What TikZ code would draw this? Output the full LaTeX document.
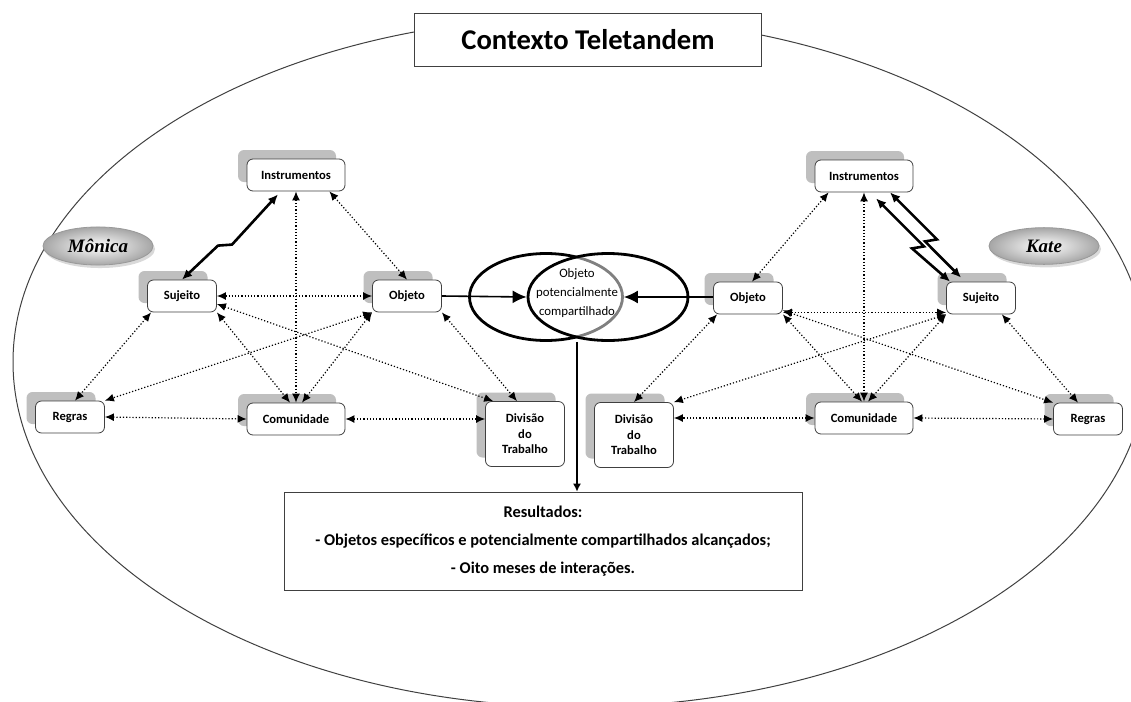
\documentclass[tikz,border=0pt]{standalone}
\usepackage{fontspec}
\setmainfont{Carlito}
\newfontfamily\namefont{Liberation Serif}
\usetikzlibrary{arrows.meta, shapes.geometric, shadows}

\begin{document}
\begin{tikzpicture}[x=0.5pt, y=-0.5pt,
	actbox/.style={draw=black!75, fill=white, rounded corners=3pt, minimum width=34.5pt, minimum height=16pt, inner sep=1pt, font=\bfseries\fontsize{6.3}{7.8}\selectfont, drop shadow={shadow xshift=-4.5pt, shadow yshift=4.5pt, fill=black!25, opacity=1}},
	widebox/.style={actbox, minimum width=49pt},
	divbox/.style={actbox, minimum width=39.5pt, minimum height=32.5pt, align=center},
	dotlink/.style={densely dotted, line width=0.6pt, {Latex[length=4.5pt,width=4pt]}-{Latex[length=4.5pt,width=4pt]}},
	boltlink/.style={line width=1.3pt, {Latex[length=5pt,width=4.5pt]}-{Latex[length=5pt,width=4.5pt]}},
	person/.style={ellipse, draw=black!40, inner color=white, outer color=black!35, minimum width=55pt, minimum height=18pt, font=\namefont\bfseries\itshape\fontsize{9.5}{10}\selectfont, drop shadow={shadow xshift=1pt, shadow yshift=-1.5pt, opacity=0.3}},
	lens/.style={ellipse, draw, line width=1.4pt, minimum height=43.5pt}]

	\useasboundingbox (0,0) rectangle (1131,702);
	\clip (0,0) rectangle (1131,702);

	\draw [black!75, line width=0.5pt] (580,362) ellipse [x radius=283.5pt, y radius=172.5pt];
	\node [draw=black!75, fill=white, minimum width=173.5pt, minimum height=26.5pt, font=\bfseries\fontsize{14.3}{16}\selectfont] (title) at (588,40) {Contexto Teletandem};

	\node [person] (monica) at (98,246) {Mônica};
	\node [person] (kate) at (1044,246) {Kate};

	\node [widebox] (instr1) at (296,175) {Instrumentos};
	\node [actbox] (suj1) at (182,296) {Sujeito};
	\node [actbox] (obj1) at (407,296) {Objeto};
	\node [actbox] (reg1) at (70,417) {Regras};
	\node [widebox] (com1) at (296,419) {Comunidade};
	\node [divbox] (div1) at (525,434) {Divisão\\do\\Trabalho};

	\node [widebox] (instr2) at (864,176) {Instrumentos};
	\node [actbox] (obj2) at (748,298) {Objeto};
	\node [actbox] (suj2) at (981,298) {Sujeito};
	\node [widebox] (com2) at (864,418) {Comunidade};
	\node [actbox] (reg2) at (1088,419) {Regras};
	\node [divbox] (div2) at (634,435) {Divisão\\do\\Trabalho};

	\node [lens, minimum width=76.5pt] (lensL) at (546,297) {};
	\node [lens, minimum width=80pt, fill=white, fill opacity=0.5] (lensR) at (608,297) {};
	\node [align=center, font=\fontsize{6.4}{9.5}\selectfont] (shared) at (577,293) {Objeto\\potencialmente\\compartilhado};

	\node [draw=black!75, minimum width=259pt, minimum height=49pt, align=center, font=\bfseries\fontsize{8.2}{14}\selectfont] (res) at (543,541) {Resultados:\\- Objetos específicos e potencialmente compartilhados alcançados;\\- Oito meses de interações.};

	\draw [line width=0.8pt, -{Latex[length=7pt,width=6.5pt]}] (obj1.east) -- (lensR.west);
	\draw [line width=0.8pt, -{Latex[length=7pt,width=6.5pt]}] (obj2.west |- lensL.east) -- (lensL.east);
	\draw [line width=0.6pt, -{Latex[length=4pt,width=4pt]}] (shared |- lensL.south) -- (shared |- res.north);

	\draw [boltlink] (suj1.north) -- ++(36,-34) -- ++(14,-1) -- ([xshift=-9pt,yshift=-1.5pt]instr1.south);
	\draw [dotlink] (suj1.east) -- (obj1.west);
	\draw [dotlink] ([xshift=-8pt]instr1.south east) -- (obj1.north);
	\draw [dotlink] (instr1.south) -- (com1.north);
	\draw [dotlink] ([xshift=2pt]suj1.south west) -- ([xshift=2.5pt]reg1.north);
	\draw [dotlink] (suj1.south east) -- ([xshift=-3pt]com1.north);
	\draw [dotlink] (obj1.south west) -- ([xshift=3pt]com1.north);
	\draw [dotlink] (obj1.south west) -- (reg1.north east);
	\draw [dotlink] ([yshift=-4pt]suj1.east) -- ([xshift=4pt]div1.north west);
	\draw [dotlink] (obj1.south east) -- ([xshift=-4pt]div1.north);
	\draw [dotlink] (reg1.east) -- (com1.west);
	\draw [dotlink] (com1.east) -- (com1.east -| div1.west);

	\draw [boltlink] ([xshift=6pt,yshift=-3pt]instr2.south) -- ++(48,48) -- ++(-12,2) -- ([xshift=2pt]suj2.north west);
	\draw [boltlink] ([xshift=13pt]instr2.south) -- ++(47,47) -- ++(-12,2) -- ([xshift=7.5pt,yshift=2pt]suj2.north west);
	\draw [dotlink] ([xshift=7pt]instr2.south west) -- ([xshift=2pt]obj2.north);
	\draw [dotlink] (instr2.south) -- (com2.north);
	\draw [dotlink] ([yshift=1pt]obj2.south east) -- ([yshift=1pt]suj2.south west);
	\draw [dotlink] (obj2.south east) -- ([xshift=-1pt]com2.north);
	\draw [dotlink] (suj2.south west) -- ([xshift=2pt]com2.north);
	\draw [dotlink] ([yshift=2pt]obj2.south east) -- (reg2.north west);
	\draw [dotlink] (suj2.south west) -- (div2.north east);
	\draw [dotlink] ([xshift=-7pt]suj2.south east) -- ([xshift=-5pt]reg2.north);
	\draw [dotlink] ([xshift=2pt]obj2.south west) -- (div2.north);
	\draw [dotlink] (com2.west) -- (com2.west -| div2.east);
	\draw [dotlink] (com2.east) -- (reg2.west);
\end{tikzpicture}
\end{document}
